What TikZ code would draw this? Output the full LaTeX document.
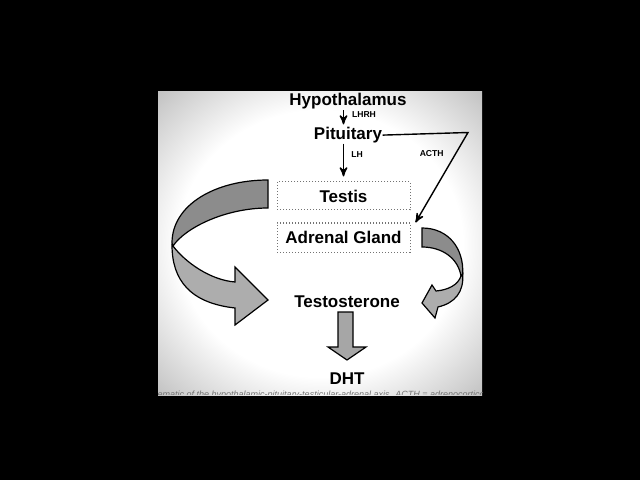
\documentclass[tikz,border=0pt]{standalone}
\usepackage{fontspec}
\setmainfont{Liberation Sans}
\usetikzlibrary{arrows}
\usetikzlibrary{calc}
\usetikzlibrary{positioning}

\pgfdeclareradialshading{vignette}{\pgfpoint{0bp}{0bp}}{%
  color(0bp)=(white); color(22bp)=(white); color(36bp)=(black!25);
  color(50bp)=(black!55); color(72bp)=(black!92)}

\begin{document}
\begin{tikzpicture}[>=stealth',x=0.5pt,y=-0.5pt,line width=0.7pt,
  organ/.style={font=\fontsize{8.5}{10}\selectfont\bfseries,inner sep=0pt},
  gland/.style={organ,draw=black!55,densely dotted,line width=0.5pt,fill=white,
    minimum width=66.5pt,minimum height=14pt},
  hormone/.style={font=\fontsize{4.3}{5}\selectfont\bfseries,inner sep=0pt}]
\tikzstyle{darkband} = [draw=black,line width=0.6pt,fill=black!45]
\tikzstyle{lightband} = [draw=black,line width=0.6pt,fill=black!32]
\useasboundingbox (0,0) rectangle (640,480);
\fill[black] (0,0) rectangle (640,480);
\shade[shading=vignette] (158,92) rectangle (482,395);

% caption strip, cut off by the panel edge
\begin{scope}
\clip (158,92) rectangle (482,394.5);
\node[anchor=base west,inner sep=0pt,text=black!55,
  font=\fontsize{4.5}{5}\selectfont\itshape] (caption) at (157,397)
  {ematic of the hypothalamic-pituitary-testicular-adrenal axis. ACTH = adrenocortico};
\end{scope}

\node[organ,anchor=base] (hyp) at (348,106) {Hypothalamus};
\node[organ,anchor=base] (pit) at (348,139.5) {Pituitary};
\node[gland] (testis) at (343.5,196) {Testis};
\node[gland,minimum height=14.5pt] (adrenal) at (343.5,237.5) {Adrenal Gland};
\node[organ,anchor=base] (testo) at (347,307.5) {Testosterone};
\node[organ,anchor=base] (dht) at (347,384) {DHT};

\node[hormone] (lhrh) at (364,114.5) {LHRH};
\node[hormone] (lh) at (357,154.5) {LH};
\node[hormone] (acth) at (431.7,153.3) {ACTH};

\coordinate (acthbend) at (468,132.5);

\draw[->,shorten >=1pt] (hyp.south -| testis) -- (pit.north -| testis);
\draw[->,shorten >=2.5pt] (pit.south -| testis) -- (testis.north);
\draw[->] (pit.east) -- (acthbend) -- ($(adrenal.north east)+(5,0)$);

% left ribbon arrow
\filldraw[lightband] (172,245) .. controls (172,280) and (190,303) .. (235,308)
  -- (235,325) -- (268,300) -- (235,267) -- (235,282)
  .. controls (210,280) and (185,262) .. (173,246) -- cycle;
\filldraw[darkband] (268,180) .. controls (215,180) and (172,205) .. (172,243)
  -- (173,246) .. controls (185,228) and (225,208) .. (268,208) -- cycle;

% right ribbon arrow
\filldraw[lightband] (462.7,274) .. controls (464,292) and (455,303) .. (438,307)
  -- (435,318) -- (422,303) -- (432,285) -- (436,291)
  .. controls (448,290) and (458,285) .. (461,276) -- cycle;
\filldraw[darkband] (422,228) .. controls (448,228) and (464,248) .. (462.7,274)
  -- (461,276) .. controls (458,258) and (442,247) .. (422,247) -- cycle;

% testosterone to DHT
\filldraw[draw=black,line width=0.6pt,fill=black!35] (338,312) -- (353,312) -- (353,347)
  -- (366,347) -- (347,360) -- (328,347) -- (338,347) -- cycle;
\end{tikzpicture}
\end{document}
